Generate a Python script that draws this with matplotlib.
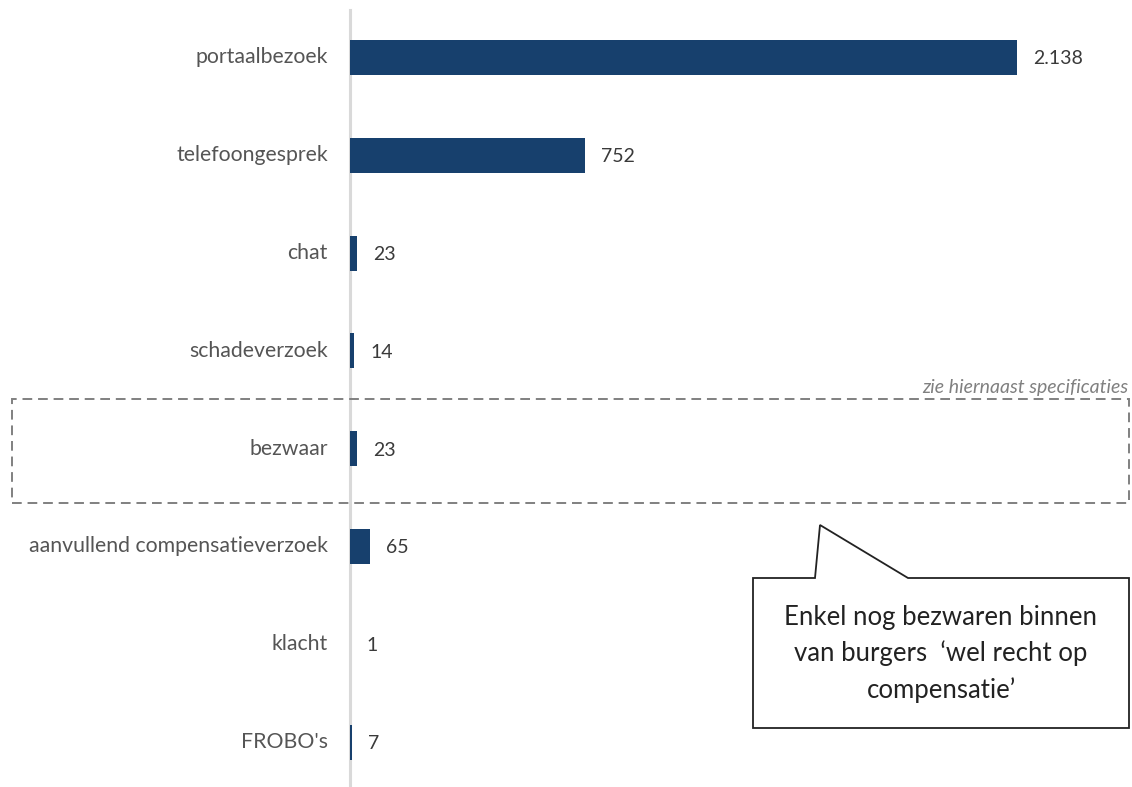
import matplotlib
matplotlib.use("Agg")
import matplotlib.pyplot as plt
from matplotlib.patches import Rectangle, Polygon
from matplotlib.lines import Line2D

categories = ["portaalbezoek", "telefoongesprek", "chat", "schadeverzoek", "bezwaar",
              "aanvullend compensatieverzoek", "klacht", "FROBO's"]
values = [2138, 752, 23, 14, 23, 65, 1, 7]
value_labels = ["2.138", "752", "23", "14", "23", "65", "1", "7"]

W, H = 1132, 787
plt.rcParams['font.family'] = ['Lato', 'DejaVu Sans']
fig = plt.figure(figsize=(W/100, H/100), dpi=100)

def fx(px):
    return px / W
def fy(py):
    return 1 - py / H

ax = fig.add_axes([fx(350), 0, 1 - fx(350), 1])
ax.set_xlim(0, 2506.6)
ax.set_ylim(7.46, -0.588)
ax.axis('off')

bar_color = "#17406d"
ypos = list(range(len(categories)))
ax.barh(ypos, values, height=0.358, color=bar_color)

for y, v, lab, cat in zip(ypos, values, value_labels, categories):
    ax.annotate(lab, xy=(v, y), xytext=(11.5, -1), textcoords='offset points',
                va='center', ha='left', fontsize=14, color='#3a3a3a')
    ax.annotate(cat, xy=(0, y), xytext=(-16, 0), textcoords='offset points',
                va='center', ha='right', fontsize=15.3, color='#555555')

# axis line
fig.add_artist(Line2D([fx(350), fx(350)], [fy(10), fy(787)], color='#d9d9d9', lw=2.2,
                      transform=fig.transFigure, zorder=0))

# dashed rectangle
fig.add_artist(Rectangle((fx(12), fy(503)), fx(1129) - fx(12), fy(399) - fy(503),
                         fill=False, ls=(0, (5, 3)), ec='#808080', lw=1.4,
                         transform=fig.transFigure))
fig.text(fx(1128), fy(388), "zie hiernaast specificaties", ha='right', va='center',
         fontsize=14, style='italic', color='#808080')

# callout
pts = [(753, 578), (815, 578), (820, 525), (908, 578), (1129, 578), (1129, 728), (753, 728)]
fig.add_artist(Polygon([(fx(x), fy(y)) for x, y in pts], closed=True, fill=True,
                       fc='white', ec='#222222', lw=1.3, transform=fig.transFigure))
fig.text(fx(941), fy(654), "Enkel nog bezwaren binnen\nvan burgers  \u2018wel recht op\ncompensatie\u2019",
         ha='center', va='center', fontsize=18.5, color='#222222', linespacing=1.5)

fig.savefig("out.png", dpi=100)
